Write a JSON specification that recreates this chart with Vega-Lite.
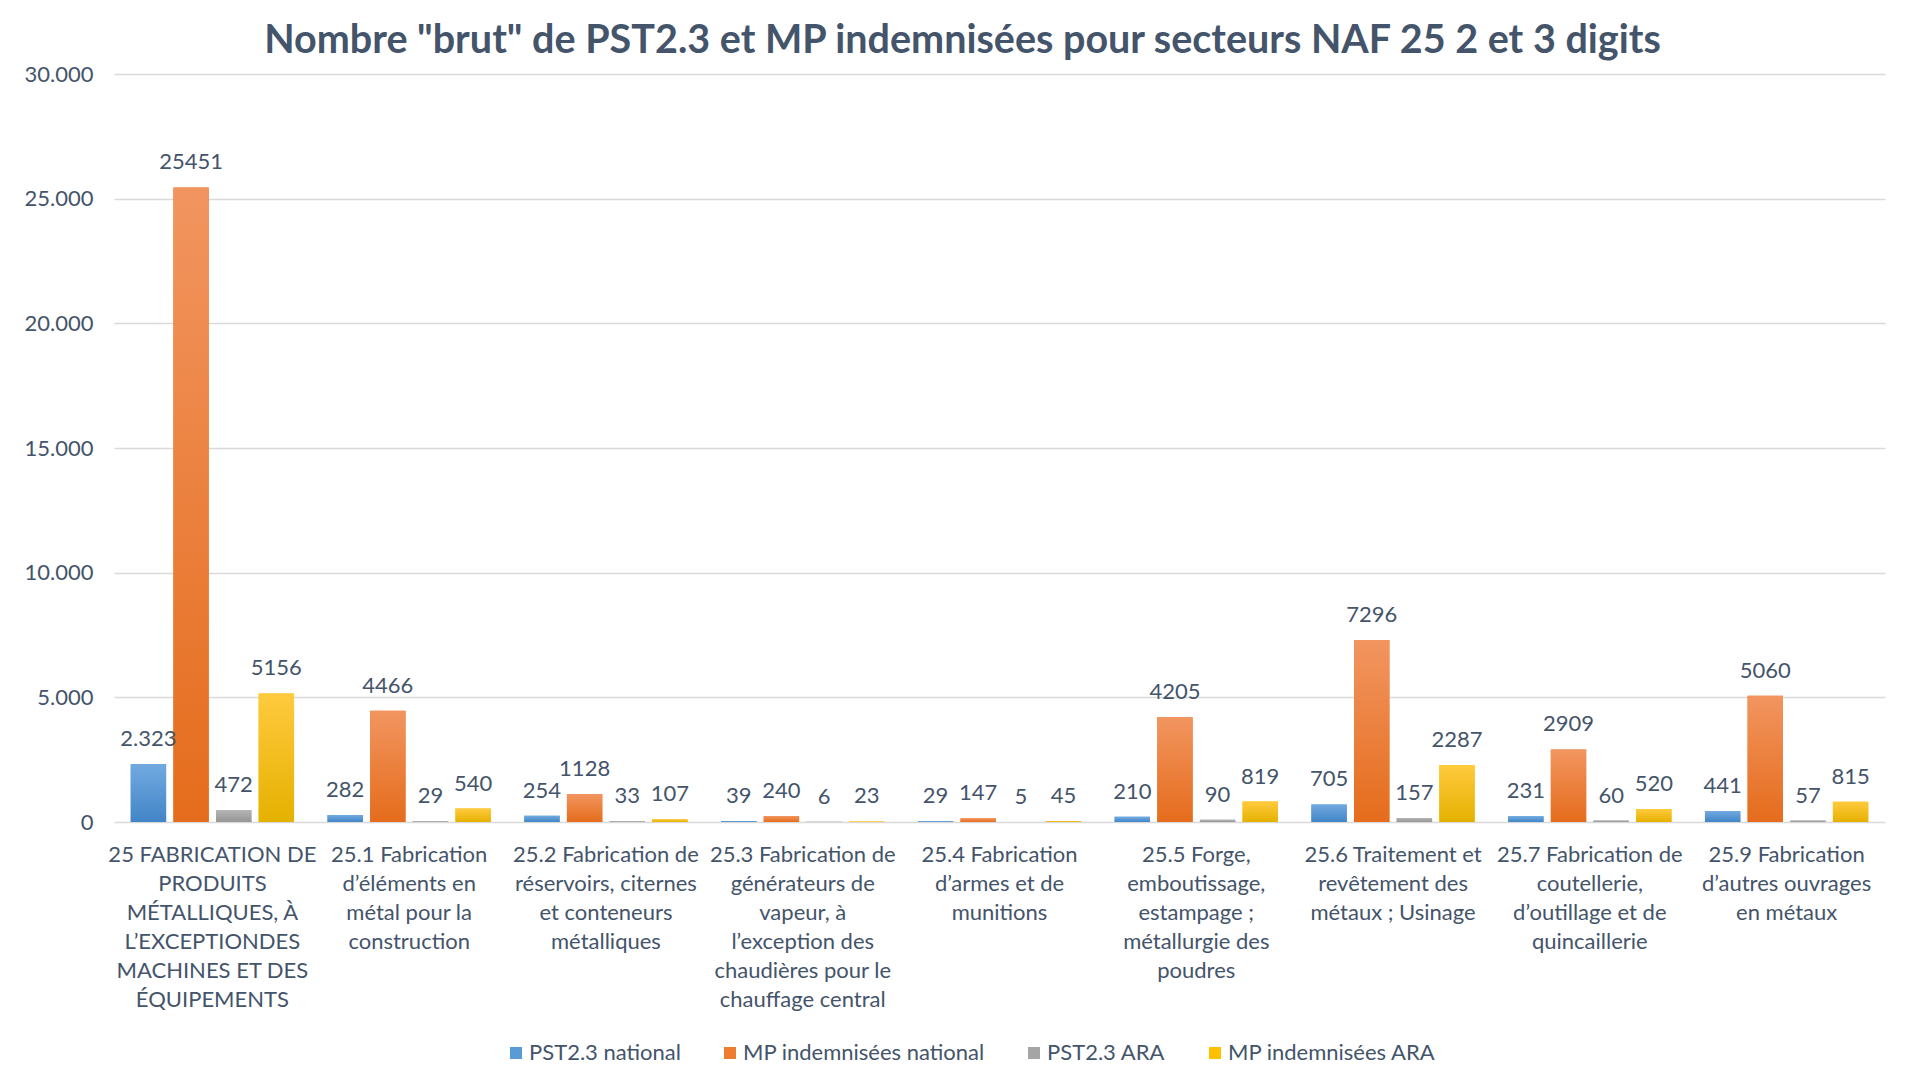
{
  "$schema": "https://vega.github.io/schema/vega-lite/v6.json",
  "width": 1771,
  "height": 748,
  "autosize": {"type": "none"},
  "padding": {"left": 114, "top": 74, "right": 36, "bottom": 265},
  "background": "white",
  "config": {
    "font": "Lato",
    "view": {"stroke": null},
    "axis": {"labelFont": "Lato", "labelColor": "#44546A", "labelFontSize": 22},
    "legend": {"labelFont": "Lato", "labelColor": "#44546A"}
  },
  "title": {
    "text": "Nombre \"brut\" de PST2.3 et MP indemnisées pour secteurs NAF 25 2 et 3 digits",
    "font": "Lato",
    "fontSize": 39.5,
    "fontWeight": "bold",
    "color": "#44546A",
    "anchor": "middle",
    "dx": -37,
    "offset": 2
  },
  "data": {
    "values": [
      {"cat": "25 FABRICATION DE|PRODUITS|MÉTALLIQUES, À|L’EXCEPTIONDES|MACHINES ET DES|ÉQUIPEMENTS", "series": "PST2.3 national", "value": 2323, "label": "2.323"},
      {"cat": "25 FABRICATION DE|PRODUITS|MÉTALLIQUES, À|L’EXCEPTIONDES|MACHINES ET DES|ÉQUIPEMENTS", "series": "MP indemnisées national", "value": 25451, "label": "25451"},
      {"cat": "25 FABRICATION DE|PRODUITS|MÉTALLIQUES, À|L’EXCEPTIONDES|MACHINES ET DES|ÉQUIPEMENTS", "series": "PST2.3 ARA", "value": 472, "label": "472"},
      {"cat": "25 FABRICATION DE|PRODUITS|MÉTALLIQUES, À|L’EXCEPTIONDES|MACHINES ET DES|ÉQUIPEMENTS", "series": "MP indemnisées ARA", "value": 5156, "label": "5156"},
      {"cat": "25.1 Fabrication|d’éléments en|métal pour la|construction", "series": "PST2.3 national", "value": 282, "label": "282"},
      {"cat": "25.1 Fabrication|d’éléments en|métal pour la|construction", "series": "MP indemnisées national", "value": 4466, "label": "4466"},
      {"cat": "25.1 Fabrication|d’éléments en|métal pour la|construction", "series": "PST2.3 ARA", "value": 29, "label": "29"},
      {"cat": "25.1 Fabrication|d’éléments en|métal pour la|construction", "series": "MP indemnisées ARA", "value": 540, "label": "540"},
      {"cat": "25.2 Fabrication de|réservoirs, citernes|et conteneurs|métalliques", "series": "PST2.3 national", "value": 254, "label": "254"},
      {"cat": "25.2 Fabrication de|réservoirs, citernes|et conteneurs|métalliques", "series": "MP indemnisées national", "value": 1128, "label": "1128"},
      {"cat": "25.2 Fabrication de|réservoirs, citernes|et conteneurs|métalliques", "series": "PST2.3 ARA", "value": 33, "label": "33"},
      {"cat": "25.2 Fabrication de|réservoirs, citernes|et conteneurs|métalliques", "series": "MP indemnisées ARA", "value": 107, "label": "107"},
      {"cat": "25.3 Fabrication de|générateurs de|vapeur, à|l’exception des|chaudières pour le|chauffage central", "series": "PST2.3 national", "value": 39, "label": "39"},
      {"cat": "25.3 Fabrication de|générateurs de|vapeur, à|l’exception des|chaudières pour le|chauffage central", "series": "MP indemnisées national", "value": 240, "label": "240"},
      {"cat": "25.3 Fabrication de|générateurs de|vapeur, à|l’exception des|chaudières pour le|chauffage central", "series": "PST2.3 ARA", "value": 6, "label": "6"},
      {"cat": "25.3 Fabrication de|générateurs de|vapeur, à|l’exception des|chaudières pour le|chauffage central", "series": "MP indemnisées ARA", "value": 23, "label": "23"},
      {"cat": "25.4 Fabrication|d’armes et de|munitions", "series": "PST2.3 national", "value": 29, "label": "29"},
      {"cat": "25.4 Fabrication|d’armes et de|munitions", "series": "MP indemnisées national", "value": 147, "label": "147"},
      {"cat": "25.4 Fabrication|d’armes et de|munitions", "series": "PST2.3 ARA", "value": 5, "label": "5"},
      {"cat": "25.4 Fabrication|d’armes et de|munitions", "series": "MP indemnisées ARA", "value": 45, "label": "45"},
      {"cat": "25.5 Forge,|emboutissage,|estampage ;|métallurgie des|poudres", "series": "PST2.3 national", "value": 210, "label": "210"},
      {"cat": "25.5 Forge,|emboutissage,|estampage ;|métallurgie des|poudres", "series": "MP indemnisées national", "value": 4205, "label": "4205"},
      {"cat": "25.5 Forge,|emboutissage,|estampage ;|métallurgie des|poudres", "series": "PST2.3 ARA", "value": 90, "label": "90"},
      {"cat": "25.5 Forge,|emboutissage,|estampage ;|métallurgie des|poudres", "series": "MP indemnisées ARA", "value": 819, "label": "819"},
      {"cat": "25.6 Traitement et|revêtement des|métaux ; Usinage", "series": "PST2.3 national", "value": 705, "label": "705"},
      {"cat": "25.6 Traitement et|revêtement des|métaux ; Usinage", "series": "MP indemnisées national", "value": 7296, "label": "7296"},
      {"cat": "25.6 Traitement et|revêtement des|métaux ; Usinage", "series": "PST2.3 ARA", "value": 157, "label": "157"},
      {"cat": "25.6 Traitement et|revêtement des|métaux ; Usinage", "series": "MP indemnisées ARA", "value": 2287, "label": "2287"},
      {"cat": "25.7 Fabrication de|coutellerie,|d’outillage et de|quincaillerie", "series": "PST2.3 national", "value": 231, "label": "231"},
      {"cat": "25.7 Fabrication de|coutellerie,|d’outillage et de|quincaillerie", "series": "MP indemnisées national", "value": 2909, "label": "2909"},
      {"cat": "25.7 Fabrication de|coutellerie,|d’outillage et de|quincaillerie", "series": "PST2.3 ARA", "value": 60, "label": "60"},
      {"cat": "25.7 Fabrication de|coutellerie,|d’outillage et de|quincaillerie", "series": "MP indemnisées ARA", "value": 520, "label": "520"},
      {"cat": "25.9 Fabrication|d’autres ouvrages|en métaux", "series": "PST2.3 national", "value": 441, "label": "441"},
      {"cat": "25.9 Fabrication|d’autres ouvrages|en métaux", "series": "MP indemnisées national", "value": 5060, "label": "5060"},
      {"cat": "25.9 Fabrication|d’autres ouvrages|en métaux", "series": "PST2.3 ARA", "value": 57, "label": "57"},
      {"cat": "25.9 Fabrication|d’autres ouvrages|en métaux", "series": "MP indemnisées ARA", "value": 815, "label": "815"}
    ]
  },
  "encoding": {
    "x": {
      "field": "cat",
      "type": "nominal",
      "sort": null,
      "scale": {"paddingInner": 0.17, "paddingOuter": 0.085},
      "axis": {
        "title": null,
        "labelAngle": 0,
        "labelExpr": "split(datum.label, '|')",
        "labelLineHeight": 29,
        "labelBaseline": "top",
        "labelPadding": 22,
        "domain": false,
        "ticks": false,
        "labelLimit": 300
      }
    },
    "xOffset": {
      "field": "series",
      "type": "nominal",
      "sort": ["PST2.3 national", "MP indemnisées national", "PST2.3 ARA", "MP indemnisées ARA"],
      "scale": {"domain": ["PST2.3 national", "MP indemnisées national", "PST2.3 ARA", "MP indemnisées ARA"], "paddingInner": 0.17, "paddingOuter": 0}
    },
    "y": {
      "field": "value",
      "type": "quantitative",
      "scale": {"domain": [0, 30000], "nice": false},
      "axis": {
        "title": null,
        "values": [0, 5000, 10000, 15000, 20000, 25000, 30000],
        "labelExpr": "replace(format(datum.value, ','), ',', '.')",
        "domain": false,
        "ticks": false,
        "labelPadding": 21,
        "gridColor": "#D9D9D9",
        "gridWidth": 1.5
      }
    }
  },
  "layer": [
    {
      "mark": {"type": "bar"},
      "encoding": {
        "color": {
          "field": "series",
          "type": "nominal",
          "sort": ["PST2.3 national", "MP indemnisées national", "PST2.3 ARA", "MP indemnisées ARA"],
          "scale": {"domain": ["PST2.3 national", "MP indemnisées national", "PST2.3 ARA", "MP indemnisées ARA"], "range": ["#5B9BD5", "#ED7D31", "#A5A5A5", "#FFC000"]},
          "legend": {
            "title": null,
            "orient": "none",
            "direction": "horizontal",
            "legendX": 391,
            "legendY": 968,
            "symbolType": "square",
            "symbolSize": 144,
            "symbolStrokeWidth": 0,
            "labelFontSize": 22,
            "labelOffset": 2,
            "labelLimit": 500,
            "columnPadding": 38,
            "padding": 0
          }
        }
      }
    },
    {
      "transform": [{"filter": "datum.series === 'PST2.3 national'"}],
      "mark": {"type": "bar", "fill": {"gradient": "linear", "x1": 0, "y1": 0, "x2": 0, "y2": 1, "stops": [{"offset": 0, "color": "#72AAE0"}, {"offset": 1, "color": "#4185C7"}]}},
      "encoding": {}
    },
    {
      "transform": [{"filter": "datum.series === 'MP indemnisées national'"}],
      "mark": {"type": "bar", "fill": {"gradient": "linear", "x1": 0, "y1": 0, "x2": 0, "y2": 1, "stops": [{"offset": 0, "color": "#F29560"}, {"offset": 1, "color": "#E56C1C"}]}},
      "encoding": {}
    },
    {
      "transform": [{"filter": "datum.series === 'PST2.3 ARA'"}],
      "mark": {"type": "bar", "fill": {"gradient": "linear", "x1": 0, "y1": 0, "x2": 0, "y2": 1, "stops": [{"offset": 0, "color": "#B4B4B4"}, {"offset": 1, "color": "#969696"}]}},
      "encoding": {}
    },
    {
      "transform": [{"filter": "datum.series === 'MP indemnisées ARA'"}],
      "mark": {"type": "bar", "fill": {"gradient": "linear", "x1": 0, "y1": 0, "x2": 0, "y2": 1, "stops": [{"offset": 0, "color": "#FFCA3E"}, {"offset": 1, "color": "#E5B100"}]}},
      "encoding": {}
    },
    {
      "mark": {"type": "text", "baseline": "middle", "align": "center", "dy": -25, "fontSize": 22, "font": "Lato", "color": "#44546A"},
      "encoding": {"text": {"field": "label", "type": "nominal"}}
    }
  ]
}
